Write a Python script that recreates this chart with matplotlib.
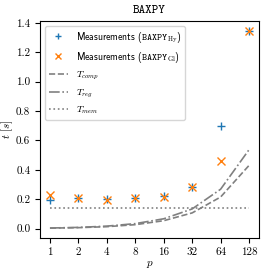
import matplotlib
matplotlib.use("Agg")
import matplotlib.pyplot as plt

plt.rcParams['font.family'] = 'serif'
plt.rcParams['font.serif'] = ['cmr10']
plt.rcParams['mathtext.fontset'] = 'cm'
plt.rcParams['axes.formatter.use_mathtext'] = True
plt.rcParams['axes.unicode_minus'] = False
plt.rcParams['font.size'] = 8

p = [1, 2, 4, 8, 16, 32, 64, 128]
t_hy = [0.193, 0.206, 0.199, 0.206, 0.222, 0.286, 0.697, 1.345]
t_gl = [0.231, 0.206, 0.197, 0.206, 0.216, 0.282, 0.457, 1.345]
t_comp = [0.0034, 0.0067, 0.0134, 0.027, 0.054, 0.107, 0.215, 0.43]
t_reg = [0.0042, 0.0084, 0.017, 0.034, 0.067, 0.134, 0.268, 0.537]
t_mem = [0.141] * 8
xticklabels = ['1', '2', '4', '8', '16', '32', '64', '128']

fig = plt.figure(figsize=(2.70, 2.74), dpi=100)
ax = fig.add_axes([40/270, 1-238/274, 219/270, 217/274])

ax.plot(p, t_hy, '+', color='C0', ms=6, mew=1.0, label=r'Measurements ($\mathtt{BAXPY}_{\mathrm{Hy}}$)')
ax.plot(p, t_gl, 'x', color='C1', ms=6, mew=1.0, label=r'Measurements ($\mathtt{BAXPY}_{\mathrm{Gl}}$)')
ax.plot(p, t_comp, '--', color='gray', lw=1.2, label=r'$T_{comp}$')
ax.plot(p, t_reg, '-.', color='gray', lw=1.2, label=r'$T_{reg}$')
ax.plot(p, t_mem, ':', color='gray', lw=1.2, label=r'$T_{mem}$')

ax.set_xscale('log', base=2)
ax.set_xticks(p)
ax.set_xticklabels(xticklabels)
ax.minorticks_off()
ax.set_yticks([0.0, 0.2, 0.4, 0.6, 0.8, 1.0, 1.2, 1.4])
ax.set_yticklabels(['0.0', '0.2', '0.4', '0.6', '0.8', '1.0', '1.2', '1.4'])
ax.set_xlabel(r'$p$', fontsize=8, labelpad=1)
ax.set_ylabel(r'$t\ [s]$', fontsize=8)
ax.yaxis.set_label_coords(-0.115, 0.5)
ax.set_title('BAXPY', family='cmtt10', fontsize=9)
ax.legend(loc='upper left', prop={'family': 'cmss10', 'size': 7}, markerscale=0.8)

fig.savefig('out.png', dpi=100)
